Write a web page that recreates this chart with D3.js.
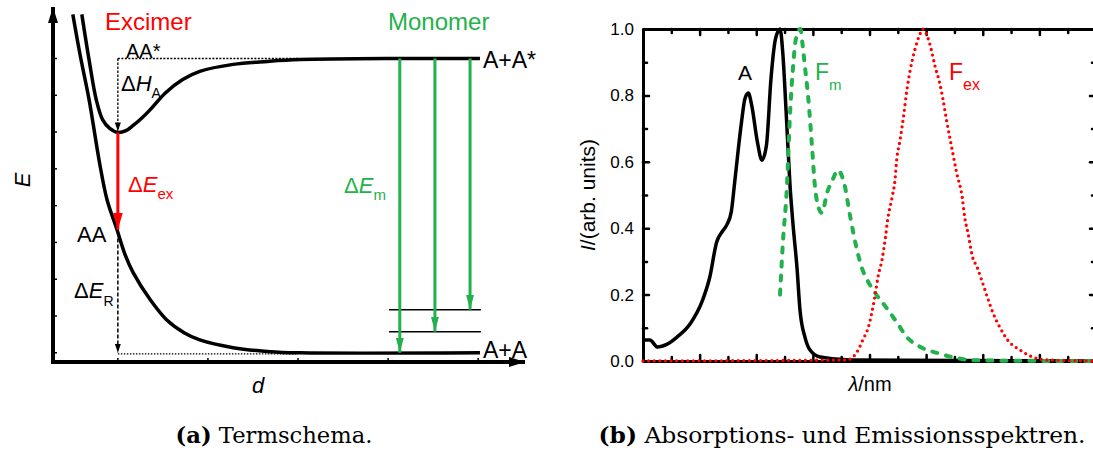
<!DOCTYPE html>
<html>
<head>
<meta charset="utf-8">
<script src="https://cdn.jsdelivr.net/npm/d3@7"></script>
<style>
  body { margin: 0; background: #fff; }
  svg { display: block; font-family: "Liberation Sans", Arial, sans-serif; }
</style>
</head>
<body>
<div id="chart"></div>
<script>
// (a) term scheme, d and E in arbitrary units
var groundD = [0.50, 0.58, 0.68, 0.80, 0.88, 0.99, 1.08, 1.17, 1.36, 1.54, 1.74, 1.91, 2.28, 2.69, 3.02, 5.02];
var groundE = [9.20, 8.11, 6.89, 5.12, 4.16, 3.35, 2.67, 2.18, 1.44, 0.90, 0.54, 0.35, 0.14, 0.03, 0.0, 0.0];
var excD = [0.60, 0.68, 0.76, 0.83, 0.91, 1.00, 1.09, 1.17, 1.27, 1.36, 1.53, 1.72, 1.91, 2.28, 2.66, 3.02, 4.13, 5.02];
var excE = [9.20, 7.97, 6.88, 6.34, 6.10, 5.99, 6.04, 6.18, 6.39, 6.61, 7.07, 7.43, 7.65, 7.84, 7.92, 7.97, 8.0, 8.0];
var excMinD = 1.0, excMinE = 5.99, aaE = 3.35, plateauE = 8.0, dottedEndD = 3.0;
var monoD = [4.13, 4.52, 4.91];
var monoEnd = [0, 0.57, 1.17];
var levelE = [0.57, 1.17];
var levelD = [4.01, 5.03];
var eTicks = [0, 1, 2, 3, 4, 5, 6, 7, 8];
var dTicks = [1, 2, 3, 4, 5];

// (b) spectra, wavelength in nm, normalised intensity
var absWl = [250, 256, 263, 271, 280, 292, 302, 309, 315, 320, 324, 328, 331, 337, 340, 343, 346, 351, 355, 359, 363, 367, 371, 373.6, 376.3, 379.8, 382.5, 386, 388.6, 393, 397.5, 406.3, 433, 650];
var absI  = [0.063, 0.063, 0.042, 0.05, 0.072, 0.114, 0.178, 0.253, 0.358, 0.39, 0.41, 0.45, 0.54, 0.72, 0.79, 0.807, 0.77, 0.66, 0.605, 0.65, 0.85, 0.97, 1.0, 0.92, 0.756, 0.53, 0.41, 0.28, 0.154, 0.072, 0.033, 0.012, 0.003, 0.0];
var fmWl = [371, 373.5, 377, 380, 382.5, 385, 389, 391, 393, 396, 399, 402, 404, 408, 412.5, 418, 422, 428, 433, 439, 443, 448, 455, 465, 474, 483, 495, 510, 527, 539, 565, 650];
var fmI  = [0.2, 0.355, 0.52, 0.756, 0.886, 0.97, 1.0, 0.95, 0.886, 0.79, 0.657, 0.52, 0.475, 0.446, 0.506, 0.55, 0.575, 0.53, 0.434, 0.334, 0.283, 0.244, 0.205, 0.16, 0.117, 0.072, 0.042, 0.024, 0.009, 0.003, 0.001, 0.0];
var fexWl = [250, 430, 440, 444, 449, 452, 455, 457.5, 461, 464, 466, 470, 472.5, 474, 477, 480, 483, 486, 490, 495, 497, 503, 508, 512, 515, 518, 523, 527, 532, 534, 537, 541, 545, 549, 554, 559, 565, 572, 583, 594, 607, 650];
var fexI  = [0, 0.003, 0.033, 0.063, 0.102, 0.145, 0.2, 0.253, 0.304, 0.37, 0.425, 0.494, 0.545, 0.605, 0.666, 0.735, 0.816, 0.877, 0.937, 0.988, 1.0, 0.958, 0.886, 0.837, 0.786, 0.726, 0.636, 0.566, 0.49, 0.434, 0.385, 0.313, 0.283, 0.244, 0.193, 0.145, 0.102, 0.063, 0.033, 0.012, 0.003, 0];
var yMajor = [0, 0.2, 0.4, 0.6, 0.8, 1.0];
var yMinor = [0.1, 0.3, 0.5, 0.7, 0.9];
var xMajor = [300, 350, 400, 450, 500, 550, 600];
var xMinor = [275, 325, 375, 425, 475, 525, 575, 625];

var red = "#ff0000", green = "#22b14c";
var width = 1093, height = 455;

var svg = d3.select("#chart").append("svg")
    .attr("width", width)
    .attr("height", height);
svg.append("rect").attr("width", width).attr("height", height).attr("fill", "#fff");

var defs = svg.append("defs");
function marker(id, color, w, l) {
  defs.append("marker")
      .attr("id", id)
      .attr("viewBox", "0 0 " + l + " " + w)
      .attr("refX", l).attr("refY", w / 2)
      .attr("markerWidth", l).attr("markerHeight", w)
      .attr("markerUnits", "userSpaceOnUse")
      .attr("orient", "auto")
    .append("path")
      .attr("d", "M0,0L" + l + "," + (w / 2) + "L0," + w + "Z")
      .attr("fill", color);
}
marker("ahRed", red, 10, 17);
marker("ahGreen", green, 8, 15);
marker("ahBlack", "#000", 6, 9);
marker("ahAxis", "#000", 10, 16);

// ---------- (a) term scheme ----------
var xd = d3.scaleLinear().domain([0.28, 5.52]).range([53, 525]);
var yE = d3.scaleLinear().domain([-0.25, 9.4]).range([362, 7]);
var ga = svg.append("g");

var lineA = d3.line()
    .x(function(d) { return xd(d[0]); })
    .y(function(d) { return yE(d[1]); })
    .curve(d3.curveCatmullRom.alpha(0.5));

// axes with arrows
ga.append("line")
    .attr("x1", xd(0.28)).attr("y1", yE(-0.25))
    .attr("x2", xd(0.28)).attr("y2", yE(9.4))
    .attr("stroke", "#000").attr("stroke-width", 4)
    .attr("marker-end", "url(#ahAxis)");
ga.append("line")
    .attr("x1", xd(0.28) - 2).attr("y1", yE(-0.25))
    .attr("x2", xd(5.52)).attr("y2", yE(-0.25))
    .attr("stroke", "#000").attr("stroke-width", 4)
    .attr("marker-end", "url(#ahAxis)");
ga.selectAll(".etick").data(eTicks).enter().append("line")
    .attr("x1", xd(0.28)).attr("x2", xd(0.28) + 4)
    .attr("y1", function(d) { return yE(d); }).attr("y2", function(d) { return yE(d); })
    .attr("stroke", "#000").attr("stroke-width", 1.5);
ga.selectAll(".dtick").data(dTicks).enter().append("line")
    .attr("x1", function(d) { return xd(d); }).attr("x2", function(d) { return xd(d); })
    .attr("y1", yE(-0.25)).attr("y2", yE(-0.25) - 4)
    .attr("stroke", "#000").attr("stroke-width", 1.5);

// dotted guides
ga.append("line")
    .attr("x1", xd(excMinD)).attr("x2", xd(dottedEndD))
    .attr("y1", yE(plateauE)).attr("y2", yE(plateauE))
    .attr("stroke", "#000").attr("stroke-width", 1.3).attr("stroke-dasharray", "2,1.5");
ga.append("line")
    .attr("x1", xd(excMinD)).attr("x2", xd(excMinD))
    .attr("y1", yE(plateauE)).attr("y2", yE(excMinE) - 1)
    .attr("stroke", "#000").attr("stroke-width", 1.3).attr("stroke-dasharray", "2.5,1.5")
    .attr("marker-end", "url(#ahBlack)");
ga.append("line")
    .attr("x1", xd(excMinD)).attr("x2", xd(excMinD))
    .attr("y1", yE(aaE) + 3).attr("y2", yE(0))
    .attr("stroke", "#000").attr("stroke-width", 1.5).attr("stroke-dasharray", "4,2")
    .attr("marker-end", "url(#ahBlack)");
ga.append("line")
    .attr("x1", xd(excMinD)).attr("x2", xd(dottedEndD))
    .attr("y1", yE(0) + 1).attr("y2", yE(0) + 1)
    .attr("stroke", "#000").attr("stroke-width", 1.3).attr("stroke-dasharray", "1.5,1.5");

// potential curves
ga.append("path")
    .attr("d", lineA(d3.zip(groundD, groundE)))
    .attr("fill", "none").attr("stroke", "#000").attr("stroke-width", 3.5);
ga.append("path")
    .attr("d", lineA(d3.zip(excD, excE)))
    .attr("fill", "none").attr("stroke", "#000").attr("stroke-width", 3.5);

// vibrational levels
ga.selectAll(".lvl").data(levelE).enter().append("line")
    .attr("x1", xd(levelD[0])).attr("x2", xd(levelD[1]))
    .attr("y1", function(d) { return yE(d); }).attr("y2", function(d) { return yE(d); })
    .attr("stroke", "#000").attr("stroke-width", 1.5);

// transitions
ga.append("line")
    .attr("x1", xd(excMinD)).attr("x2", xd(excMinD))
    .attr("y1", yE(excMinE)).attr("y2", yE(aaE))
    .attr("stroke", red).attr("stroke-width", 3)
    .attr("marker-end", "url(#ahRed)");
ga.selectAll(".mono").data(monoD).enter().append("line")
    .attr("x1", function(d) { return xd(d); }).attr("x2", function(d) { return xd(d); })
    .attr("y1", yE(plateauE))
    .attr("y2", function(d, i) { return yE(monoEnd[i]); })
    .attr("stroke", green).attr("stroke-width", 3)
    .attr("marker-end", "url(#ahGreen)");

// labels
function label(g, x, y, parts, color, size, anchor) {
  var t = g.append("text").attr("x", x).attr("y", y)
      .attr("fill", color).attr("font-size", size)
      .attr("text-anchor", anchor || "start");
  parts.forEach(function(p) {
    var s = t.append("tspan").text(p.t);
    if (p.i) s.attr("font-style", "italic");
    if (p.sub) s.attr("font-size", p.sub).attr("dy", p.dy);
  });
  return t;
}
label(ga, 105, 30, [{t: "Excimer"}], red, 24);
label(ga, 388, 30, [{t: "Monomer"}], green, 24);
label(ga, 126, 58, [{t: "AA*"}], "#000", 20);
label(ga, 121, 91, [{t: "\u0394"}, {t: "H", i: 1}, {t: "A", sub: 14, dy: 7}], "#000", 22);
label(ga, 128, 192, [{t: "\u0394"}, {t: "E", i: 1}, {t: "ex", sub: 15, dy: 7}], red, 22);
label(ga, 77, 242, [{t: "AA"}], "#000", 22);
label(ga, 74, 298, [{t: "\u0394"}, {t: "E", i: 1}, {t: "R", sub: 14, dy: 8}], "#000", 22);
label(ga, 344, 193, [{t: "\u0394"}, {t: "E", i: 1}, {t: "m", sub: 15, dy: 7}], green, 22);
label(ga, 483, 68, [{t: "A+A*"}], "#000", 23);
label(ga, 483, 358, [{t: "A+A"}], "#000", 23);
label(ga, 258, 393, [{t: "d", i: 1}], "#000", 22, "middle");
label(ga, 0, 0, [{t: "E", i: 1}], "#000", 22, "middle")
    .attr("transform", "translate(30,180) rotate(-90)");

// ---------- (b) spectra ----------
var x = d3.scaleLinear().domain([250, 650]).range([643, 1096]);
var y = d3.scaleLinear().domain([0, 1]).range([361, 29]);
var gb = svg.append("g");

function axisStyle(g) {
  g.selectAll("path").attr("stroke", "#000").attr("stroke-width", 3);
  g.selectAll("line").attr("stroke", "#000").attr("stroke-width", 2.5).attr("stroke-linecap", "round");
  g.selectAll("text").attr("font-size", 17).attr("font-family", "Liberation Sans, Arial, sans-serif").attr("fill", "#000");
}
gb.append("g").attr("transform", "translate(" + x(250) + ",0)")
    .call(d3.axisLeft(y).tickValues(yMajor).tickSize(-6).tickSizeOuter(0).tickPadding(9).tickFormat(d3.format(".1f")))
    .call(axisStyle);
gb.append("g").attr("transform", "translate(" + x(250) + ",0)")
    .call(d3.axisLeft(y).tickValues(yMinor).tickSize(-4).tickSizeOuter(0).tickFormat(""))
    .call(axisStyle);
gb.append("g").attr("transform", "translate(" + x(650) + ",0)")
    .call(d3.axisRight(y).tickValues(yMajor).tickSize(-6).tickSizeOuter(0).tickFormat(""))
    .call(axisStyle);
gb.append("g").attr("transform", "translate(" + x(650) + ",0)")
    .call(d3.axisRight(y).tickValues(yMinor).tickSize(-4).tickSizeOuter(0).tickFormat(""))
    .call(axisStyle);
[[d3.axisTop, 1], [d3.axisBottom, 0]].forEach(function(a) {
  gb.append("g").attr("transform", "translate(0," + y(a[1]) + ")")
      .call(a[0](x).tickValues(xMajor).tickSize(-6).tickSizeOuter(0).tickFormat(""))
      .call(axisStyle);
  gb.append("g").attr("transform", "translate(0," + y(a[1]) + ")")
      .call(a[0](x).tickValues(xMinor).tickSize(-4).tickSizeOuter(0).tickFormat(""))
      .call(axisStyle);
});

var lineB = d3.line()
    .x(function(d) { return x(d[0]); })
    .y(function(d) { return y(d[1]); })
    .curve(d3.curveMonotoneX);

gb.append("path")
    .attr("d", lineB(d3.zip(absWl, absI)))
    .attr("fill", "none").attr("stroke", "#000").attr("stroke-width", 3.5);
gb.append("path")
    .attr("d", lineB(d3.zip(fmWl, fmI)))
    .attr("fill", "none").attr("stroke", green).attr("stroke-width", 4)
    .attr("stroke-linecap", "round").attr("stroke-dasharray", "5,9");
gb.append("path")
    .attr("d", lineB(d3.zip(fexWl, fexI)))
    .attr("fill", "none").attr("stroke", red).attr("stroke-width", 3.3)
    .attr("stroke-linecap", "round").attr("stroke-dasharray", "0,5.6");

label(gb, 745, 80, [{t: "A"}], "#000", 21, "middle");
label(gb, 815, 80, [{t: "F"}, {t: "m", sub: 15, dy: 10}], green, 23);
label(gb, 949, 80, [{t: "F"}, {t: "ex", sub: 16, dy: 10}], red, 23);
label(gb, 0, 0, [{t: "I", i: 1}, {t: "/(arb. units)"}], "#000", 21, "middle")
    .attr("transform", "translate(595,195) rotate(-90)");
label(gb, 870, 391, [{t: "\u03bb", i: 1}, {t: "/nm"}], "#000", 20, "middle");

// ---------- captions ----------
function caption(cx, tag, txt, len) {
  var t = svg.append("text").attr("x", cx).attr("y", 443)
      .attr("text-anchor", "middle")
      .attr("font-family", "DejaVu Serif, serif")
      .attr("font-size", 23).attr("fill", "#000")
      .attr("textLength", len).attr("lengthAdjust", "spacingAndGlyphs");
  t.append("tspan").attr("font-weight", "bold").text(tag);
  t.append("tspan").text(" " + txt);
}
caption(274, "(a)", "Termschema.", 197);
caption(842, "(b)", "Absorptions- und Emissionsspektren.", 487);
</script>
</body>
</html>
